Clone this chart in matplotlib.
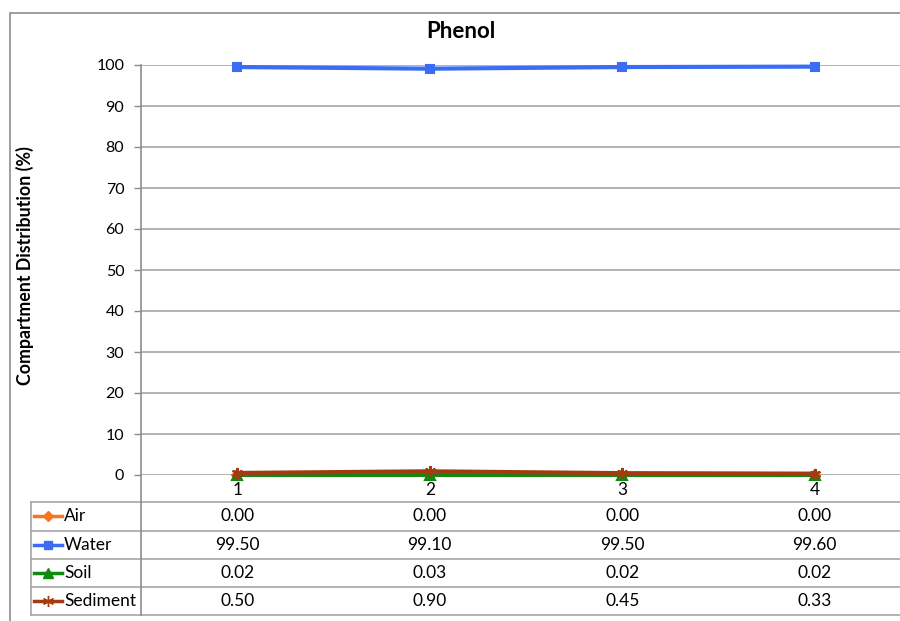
import matplotlib
matplotlib.use("Agg")
import matplotlib.pyplot as plt
from matplotlib.lines import Line2D
from matplotlib.patches import Rectangle
from matplotlib.transforms import blended_transform_factory

# Data
categories = ["1", "2", "3", "4"]
series_names = ["Air", "Water", "Soil", "Sediment"]
air = [0.00, 0.00, 0.00, 0.00]
water = [99.50, 99.10, 99.50, 99.60]
soil = [0.02, 0.03, 0.02, 0.02]
sediment = [0.50, 0.90, 0.45, 0.33]
y_ticks = [0, 10, 20, 30, 40, 50, 60, 70, 80, 90, 100]

colors = ["#f7751e", "#3a6cf4", "#10890f", "#a33b12"]
markers = ["D", "s", "^", (6, 2, 0)]
marker_sizes = [5, 6, 7, 8]
values = [air, water, soil, sediment]

W, H = 900, 621
plt.rcParams["font.family"] = ["Lato", "DejaVu Sans"]

fig = plt.figure(figsize=(W / 100, H / 100), dpi=100)


def fx(px):
    return px / W


def fy(py):
    return 1 - py / H


# outer chart frame
fig.add_artist(Rectangle((fx(9.5), fy(640)), fx(910), fy(12.5) - fy(640),
                         transform=fig.transFigure, fill=False,
                         edgecolor="#8c8c8c", linewidth=1.2))

ax_left, ax_right, ax_top, ax_bottom = 141, 911, 65, 475
ax = fig.add_axes([fx(ax_left), fy(ax_bottom), fx(ax_right - ax_left),
                   fy(ax_top) - fy(ax_bottom)])

x = list(range(1, len(categories) + 1))
for name, vals, c, m, ms in zip(series_names, values, colors, markers, marker_sizes):
    ax.plot(x, vals, color=c, linewidth=3, marker=m, markersize=ms,
            markerfacecolor=c, markeredgecolor=c, markeredgewidth=1.5,
            clip_on=False, zorder=3, label=name)

ax.set_xlim(0.5, len(categories) + 0.5)
ax.set_ylim(0, 100)
ax.set_yticks(y_ticks)
ax.set_yticklabels([str(t) for t in y_ticks], fontsize=11.5)
ax.tick_params(axis="y", direction="out", length=5, width=1, color="#8c8c8c",
               pad=7)
ax.set_xticks([])
ax.yaxis.grid(True, color="#a6a6a6", linewidth=1.2)
ax.set_axisbelow(True)
for s in ["top", "right", "bottom"]:
    ax.spines[s].set_visible(False)
ax.spines["left"].set_color("#8c8c8c")
ax.spines["left"].set_linewidth(1.2)

fig.text(fx(461), fy(31), "Phenol", ha="center", va="center",
         fontsize=16, fontweight="bold")
fig.text(fx(25), fy(266), "Compartment Distribution (%)", ha="center",
         va="center", rotation=90, fontsize=12.8, fontweight="bold")

# data table below the axis
tr = blended_transform_factory(ax.transData, fig.transFigure)
for xi, cat in zip(x, categories):
    fig.text(xi, fy(490), cat, transform=tr, ha="center", va="center",
             fontsize=12.5)

row_lines = [502, 530.5, 559, 587, 615]
grid_kw = dict(color="#a6a6a6", linewidth=1.2, transform=fig.transFigure)
for ry in row_lines:
    fig.add_artist(Line2D([fx(31), 1.0], [fy(ry), fy(ry)], **grid_kw))
fig.add_artist(Line2D([fx(31), fx(31)], [fy(502), fy(615)], **grid_kw))
fig.add_artist(Line2D([fx(141), fx(141)], [fy(475), fy(615)],
                      color="#8c8c8c", linewidth=1.2,
                      transform=fig.transFigure))

for i, (name, vals, c, m, ms) in enumerate(zip(series_names, values, colors,
                                                markers, marker_sizes)):
    yc = (row_lines[i] + row_lines[i + 1]) / 2
    fig.add_artist(Line2D([fx(34), fx(62)], [fy(yc), fy(yc)], color=c,
                          linewidth=2.5, transform=fig.transFigure))
    fig.add_artist(Line2D([fx(48)], [fy(yc)], color=c, marker=m,
                          markersize=ms, markerfacecolor=c,
                          markeredgecolor=c, linewidth=0,
                          transform=fig.transFigure))
    fig.text(fx(64), fy(yc), name, ha="left", va="center", fontsize=12.5)
    for xi, v in zip(x, vals):
        fig.text(xi, fy(yc), f"{v:.2f}", transform=tr, ha="center",
                 va="center", fontsize=12.5)

fig.savefig("out.png", dpi=100, facecolor="white")
